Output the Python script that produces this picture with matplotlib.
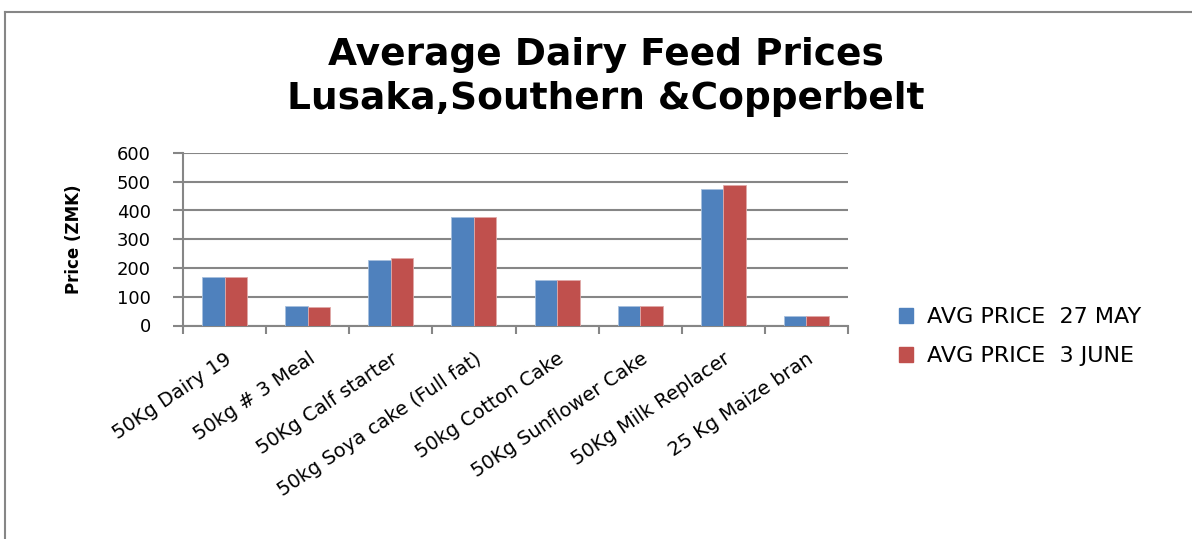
import numpy as np
import matplotlib.pyplot as plt
from matplotlib.patches import Patch

categories = ['50Kg Dairy 19', '50kg # 3 Meal', '50Kg Calf starter',
              '50kg Soya cake (Full fat)', '50kg Cotton Cake',
              '50Kg Sunflower Cake', '50Kg Milk Replacer', '25 Kg Maize bran']
price_27may = [167, 68, 229, 379, 160, 68, 476, 34]
price_3june = [167, 63, 235, 379, 160, 68, 488, 34]
series_names = ['AVG PRICE  27 MAY', 'AVG PRICE  3 JUNE']
yticks = [0, 100, 200, 300, 400, 500, 600]

blue = '#4F81BD'
red = '#C0504D'
axcol = '#868686'
font = ['DejaVu Sans']

fig = plt.figure(figsize=(11.92, 5.39), dpi=100)
ax = fig.add_axes([183/1192, 1-325.5/539, (848-183)/1192, (325.5-153)/539])

x = np.arange(len(categories))
w = 0.27
ax.bar(x - w/2, price_27may, w, color=blue, edgecolor='#A7C0DE', linewidth=0.6, zorder=3)
ax.bar(x + w/2, price_3june, w, color=red, edgecolor='#E0A9A8', linewidth=0.6, zorder=3)

ax.set_xlim(-0.5, len(categories) - 0.5)
ax.set_ylim(0, 600)
ax.set_yticks(yticks)
ax.set_yticklabels([str(v) for v in yticks], family=font, fontsize=13)
ax.yaxis.grid(True, color=axcol, linewidth=1.5, zorder=0)
ax.set_axisbelow(True)

# x ticks at category borders, labels at centres
ax.set_xticks(np.arange(len(categories) + 1) - 0.5)
ax.set_xticklabels([])
ax.set_xticks(x, minor=True)
ax.set_xticklabels(categories, minor=True, rotation=34, ha='right', va='top',
                   rotation_mode='anchor', family=font, fontsize=14)
ax.tick_params(axis='x', which='minor', length=0, pad=17)
ax.tick_params(axis='x', which='major', length=6, width=1.5, color=axcol)
ax.tick_params(axis='y', length=7, width=1.5, color=axcol, pad=16)

for s in ['top', 'right']:
    ax.spines[s].set_visible(False)
for s in ['left', 'bottom']:
    ax.spines[s].set_color(axcol)
    ax.spines[s].set_linewidth(1.5)

ax.set_ylabel('Price (ZMK)', family=['Liberation Sans Narrow', 'DejaVu Sans'],
              fontweight='bold', fontsize=12)
ax.yaxis.set_label_coords(-0.150, 0.5)

fig.text(0.508, 1-77/539, 'Average Dairy Feed Prices\nLusaka,Southern &Copperbelt',
         ha='center', va='center', family=font, fontweight='bold', fontsize=27,
         linespacing=1.3)

handles = [Patch(color=blue), Patch(color=red)]
fig.legend(handles, series_names, loc='upper left',
           bbox_to_anchor=(879/1192, 1-287/539), frameon=False,
           prop={'family': font, 'size': 16}, handlelength=0.65, handleheight=0.65,
           handletextpad=0.6, labelspacing=0.85)

# chart border
fig.add_artist(plt.Line2D([5/1192, 1], [1-12/539, 1-12/539], color=axcol, linewidth=1.5))
fig.add_artist(plt.Line2D([5/1192, 5/1192], [0, 1-12/539], color=axcol, linewidth=1.5))

fig.savefig('out.png', dpi=100)
